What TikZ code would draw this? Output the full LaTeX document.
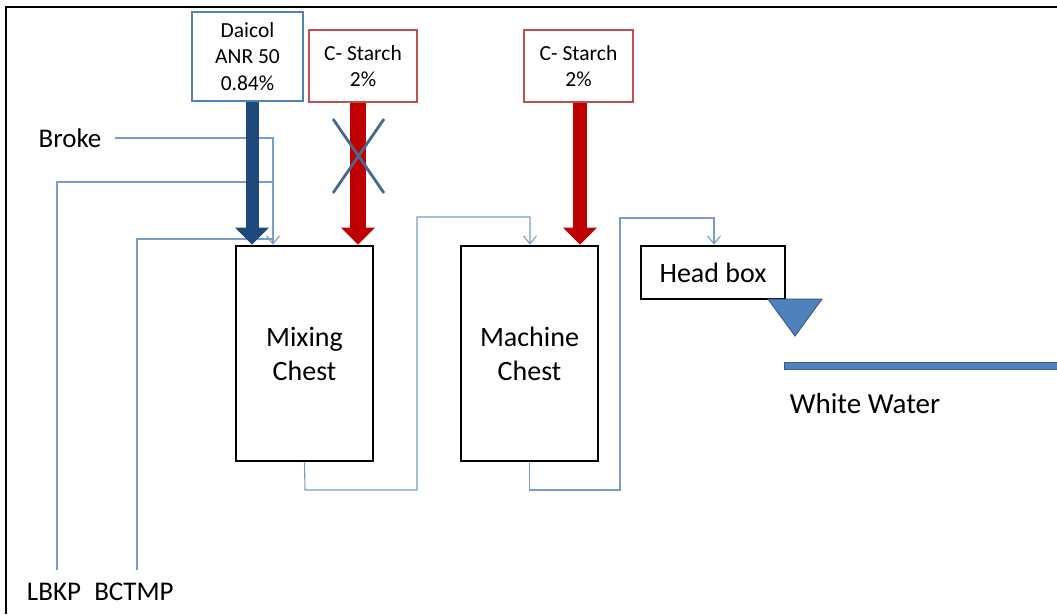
\documentclass[tikz,border=0pt]{standalone}
\usepackage{fontspec}
\setmainfont{Carlito}
\usetikzlibrary{arrows.meta}
\definecolor{flowc}{RGB}{122,156,200}
\definecolor{boxblue}{RGB}{79,129,189}
\definecolor{boxred}{RGB}{192,80,77}
\definecolor{darkblue}{RGB}{31,73,125}
\definecolor{arrred}{RGB}{192,0,0}
\definecolor{crossc}{RGB}{74,104,138}
\definecolor{triedge}{RGB}{56,93,138}
\begin{document}
\begin{tikzpicture}[x=1pt,y=-1pt,
  chest/.style={draw=black,line width=2.6pt,inner sep=0pt,minimum width=137pt,minimum height=215pt,align=center,font=\fontsize{28}{34}\selectfont},
  addbox/.style={draw=#1,line width=2.6pt,fill=white,inner sep=0pt,align=center,font=\fontsize{21.5}{26.5}\selectfont},
  lbl/.style={inner sep=0pt,font=\fontsize{27}{32}\selectfont},
  flow/.style={draw=flowc,line width=1.1pt},
  flowarrow/.style={flow,-{Straight Barb[length=8pt,width=13pt,line width=1.1pt]}},
  bigarrow/.style={draw=#1,-{Triangle[length=17pt,width=33pt]}}
]
\useasboundingbox (0,0) rectangle (1057,614);
\fill[white] (0,0) rectangle (1057,614);
% frame
\draw[line width=2.6pt] (6,614) -- (6,7) -- (1057,7);

% nodes
\node[addbox=boxblue,minimum width=111pt,minimum height=89pt] (daicol) at (247.5,56.5) {Daicol\\ANR 50\\0.84\%};
\node[addbox=boxred,minimum width=108pt,minimum height=72pt] (cs1) at (363,66) {C- Starch\\2\%};
\node[addbox=boxred,minimum width=109pt,minimum height=72pt] (cs2) at (578.5,66) {C- Starch\\2\%};
\node[chest] (mix) at (304.5,353.5) {Mixing\\Chest};
\node[chest] (mach) at (529.5,353.5) {Machine\\Chest};
\node[draw=black,line width=2.6pt,inner sep=0pt,minimum width=144pt,minimum height=53pt,font=\fontsize{28}{34}\selectfont] (head) at (713,272.5) {Head box};

\node[lbl] (broke) at (70,138) {Broke};
\node[lbl] (lbkp) at (54,592) {LBKP};
\node[lbl] (bctmp) at (134,592) {BCTMP};
\node[inner sep=0pt,font=\fontsize{29}{34}\selectfont] (ww) at (865,404) {White Water};

% coordinates
\coordinate (lbkpEnd) at (57,570);
\coordinate (bctmpEnd) at (137,570);
\coordinate (joinA) at (273,182);
\coordinate (joinB) at (273,239);

% thin flows
\draw[flowarrow] ([xshift=13pt]broke.east) -| ([xshift=-31.5pt]mix.north);
\draw[flow] (lbkpEnd) |- (joinA);
\draw[flow] (bctmpEnd) |- (joinB);
\draw[flowarrow] (mix.south) -- (305,490) -- (417,490) -- (417,217) -| ([xshift=0.5pt]mach.north);
\draw[flowarrow] (mach.south) -- (529.5,490) -- (620,490) -- (620,218) -| ([xshift=1pt]head.north);

% big arrows
\draw[bigarrow=darkblue,line width=13pt] ([xshift=4.5pt]daicol.south) -- ([xshift=4.5pt]daicol.south |- mix.north);
\draw[bigarrow=arrred,line width=16pt] ([xshift=-5pt]cs1.south) -- ([xshift=-5pt]cs1.south |- mix.north);
\draw[bigarrow=arrred,line width=14pt] ([xshift=1.5pt]cs2.south) -- ([xshift=1.5pt]cs2.south |- mach.north);

% cross
\draw[crossc,line width=2.8pt] (333,119) -- (384,193);
\draw[crossc,line width=2.8pt] (384,119) -- (333,193);

% head box outlet
\filldraw[fill=boxblue,draw=triedge,line width=1pt] (768,299) -- (822,299) -- (795,336) -- cycle;
\filldraw[fill=boxblue,draw=triedge,line width=1pt] (784,362) rectangle (1057,369);
\end{tikzpicture}
\end{document}
